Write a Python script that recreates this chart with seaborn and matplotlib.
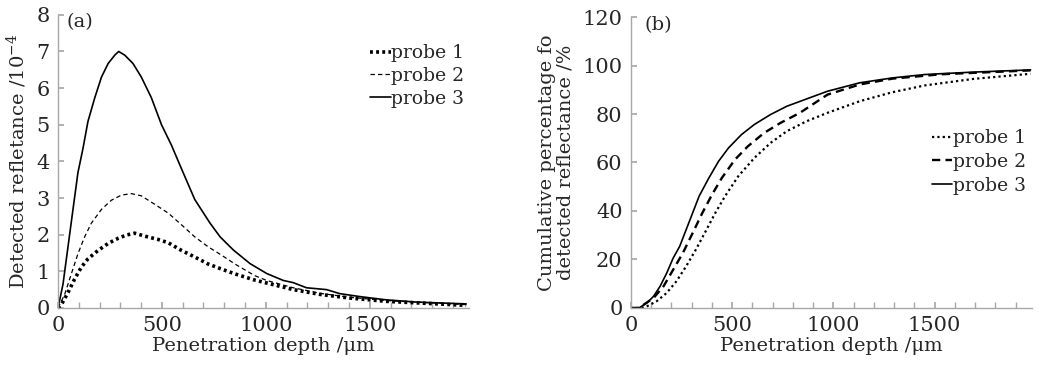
import numpy as np
import pandas as pd
import matplotlib
matplotlib.use("Agg")
import matplotlib.pyplot as plt
import seaborn as sns
from matplotlib.ticker import MultipleLocator

# ---------------- data (a): detected reflectance (x1e-4) ----------------
a_p1_x = [0, 16, 48, 80, 112, 144, 193, 241, 289, 329, 369, 417, 481, 530, 594, 658,
          722, 787, 851, 947, 1004, 1132, 1260, 1404, 1580, 1964]
a_p1_y = [0, 0.09, 0.42, 0.79, 1.11, 1.34, 1.57, 1.76, 1.90, 1.99, 2.04, 1.96, 1.87, 1.78,
          1.57, 1.39, 1.20, 1.06, 0.93, 0.76, 0.68, 0.50, 0.37, 0.27, 0.18, 0.07]
a_p2_x = [0, 32, 64, 96, 128, 160, 209, 257, 305, 353, 401, 465, 530, 594, 658, 722,
          787, 851, 947, 1004, 1132, 1260, 1404, 1580, 1964]
a_p2_y = [0, 0.37, 0.93, 1.48, 1.94, 2.31, 2.69, 2.94, 3.08, 3.12, 3.06, 2.83, 2.59, 2.27,
          1.94, 1.67, 1.44, 1.20, 0.88, 0.75, 0.55, 0.40, 0.29, 0.20, 0.09]
a_p3_x = [0, 24, 48, 72, 96, 120, 144, 177, 209, 241, 273, 292, 321, 361, 401, 449, 498,
          546, 594, 658, 732, 780, 844, 924, 1004, 1084, 1132, 1196, 1292, 1356, 1452,
          1580, 1724, 1964]
a_p3_y = [0, 0.65, 1.67, 2.69, 3.70, 4.35, 5.09, 5.74, 6.30, 6.67, 6.90, 7.00, 6.90, 6.67,
          6.30, 5.74, 5.00, 4.44, 3.80, 2.96, 2.31, 1.94, 1.58, 1.21, 0.94, 0.75, 0.69,
          0.55, 0.50, 0.39, 0.31, 0.22, 0.16, 0.11]

# ---------------- data (b): cumulative percentage (%) ----------------
b_p1_x = [0, 50, 80, 128, 177, 225, 273, 321, 369, 417, 465, 530, 610, 690, 770, 867,
          971, 1131, 1292, 1452, 1693, 1974]
b_p1_y = [0, 0, 0.7, 2.8, 6.2, 11.0, 17.2, 24.1, 31.6, 39.2, 46.1, 54.3, 61.9, 68.1,
          72.9, 77.0, 80.5, 85.3, 89.0, 91.8, 94.5, 96.6]
b_p2_x = [0, 45, 64, 112, 161, 209, 257, 305, 353, 401, 449, 514, 578, 658, 738, 835,
          971, 1131, 1292, 1532, 1974]
b_p2_y = [0, 0, 1.4, 4.1, 8.9, 15.8, 22.7, 30.9, 39.2, 46.8, 53.6, 61.2, 66.7, 72.2,
          76.3, 80.5, 88.0, 92.2, 94.6, 96.4, 98.0]
b_p3_x = [0, 40, 80, 112, 144, 177, 209, 241, 273, 305, 337, 385, 433, 482, 546, 610,
          690, 770, 867, 971, 1131, 1292, 1452, 1693, 1974]
b_p3_y = [0, 0, 2.1, 4.8, 8.9, 14.4, 20.6, 25.4, 32.3, 39.2, 46.1, 53.6, 60.5, 66.0,
          71.5, 75.7, 79.8, 83.2, 86.2, 89.4, 92.9, 94.9, 96.3, 97.3, 98.2]

labels = ["probe 1", "probe 2", "probe 3"]
x_ticks = [0, 500, 1000, 1500]

sns.set_theme(style="white")
plt.rcParams["font.family"] = ["DejaVu Serif"]
plt.rcParams["mathtext.fontset"] = "dejavuserif"

fig = plt.figure(figsize=(10.55, 3.71), dpi=100)
ax1 = fig.add_axes([0.055, 0.170, 0.39, 0.790])
ax2 = fig.add_axes([0.598, 0.170, 0.380, 0.784])

dfa = pd.concat([
    pd.DataFrame({"x": a_p1_x, "y": a_p1_y, "probe": labels[0]}),
    pd.DataFrame({"x": a_p2_x, "y": a_p2_y, "probe": labels[1]}),
    pd.DataFrame({"x": a_p3_x, "y": a_p3_y, "probe": labels[2]}),
], ignore_index=True)
dfb = pd.concat([
    pd.DataFrame({"x": b_p1_x, "y": b_p1_y, "probe": labels[0]}),
    pd.DataFrame({"x": b_p2_x, "y": b_p2_y, "probe": labels[1]}),
    pd.DataFrame({"x": b_p3_x, "y": b_p3_y, "probe": labels[2]}),
], ignore_index=True)

styles_a = {labels[0]: dict(ls=(0, (0.8, 0.9)), lw=2.6),
            labels[1]: dict(ls=(0, (3.5, 2.5)), lw=0.9),
            labels[2]: dict(ls="-", lw=1.2)}
styles_b = {labels[0]: dict(ls=(0, (1, 1.4)), lw=1.6),
            labels[1]: dict(ls=(0, (3.5, 2.2)), lw=1.7),
            labels[2]: dict(ls="-", lw=1.2)}

for ax, df, styles in [(ax1, dfa, styles_a), (ax2, dfb, styles_b)]:
    for lab in labels:
        sub = df[df["probe"] == lab]
        sns.lineplot(data=sub, x="x", y="y", ax=ax, color="black",
                     linestyle=styles[lab]["ls"], linewidth=styles[lab]["lw"],
                     label=lab, sort=False)

tfs = 15
lfs = 14
gfs = 13.5
for ax in (ax1, ax2):
    ax.set_xlim(0, 1980)
    ax.set_xticks(x_ticks)
    ax.xaxis.set_minor_locator(MultipleLocator(100))
    for s in ("top", "right"):
        ax.spines[s].set_visible(False)
    for s in ("left", "bottom"):
        ax.spines[s].set_color("#a8a8a8")
        ax.spines[s].set_linewidth(1.0)
    ax.tick_params(axis="x", which="both", direction="in", length=4, color="#a8a8a8",
                   labelsize=tfs, pad=6, bottom=True)
    ax.tick_params(axis="y", which="both", direction="in", length=4, color="#a8a8a8",
                   labelsize=tfs, pad=6, left=True)
    ax.set_xlabel("Penetration depth /μm", fontsize=lfs, labelpad=1)

ax1.set_ylim(0, 8)
ax1.set_yticks(range(0, 9))
ax1.set_ylabel("Detected refletance /10$^{-4}$", fontsize=lfs, labelpad=5)
ax1.text(0.02, 1.005, "(a)", transform=ax1.transAxes, fontsize=lfs, va="top", ha="left")

ax2.set_ylim(0, 120)
ax2.set_yticks(range(0, 121, 20))
ax2.set_ylabel("Cumulative percentage fo\ndetected reflectance /%", fontsize=lfs,
               labelpad=6, linespacing=1.0)
ax2.text(0.035, 1.005, "(b)", transform=ax2.transAxes, fontsize=lfs, va="top", ha="left")

leg1 = ax1.legend(loc="upper right", bbox_to_anchor=(1.005, 0.925), frameon=False,
                  fontsize=gfs, handlelength=1.1, handletextpad=0.0,
                  labelspacing=0.25, borderaxespad=0.0)
leg2 = ax2.legend(loc="upper right", bbox_to_anchor=(1.005, 0.64), frameon=False,
                  fontsize=gfs, handlelength=1.1, handletextpad=0.05,
                  labelspacing=0.3, borderaxespad=0.0)

fig.savefig("out.png", dpi=100)
